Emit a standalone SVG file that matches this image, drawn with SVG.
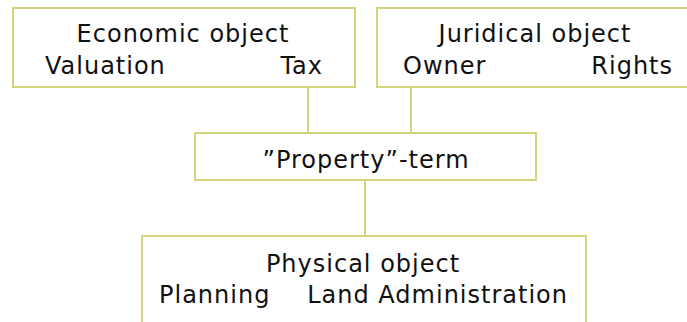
<svg xmlns="http://www.w3.org/2000/svg" width="687" height="322" viewBox="0 0 687 322">
<style>
.box{fill:#fff;stroke:#d4d47c;stroke-width:2}
.ln{stroke:#d4d47c;stroke-width:2;fill:none}
text{font-family:"DejaVu Sans",Verdana,sans-serif;font-size:24px;letter-spacing:1px;fill:#111}
.c{text-anchor:middle}
.e{text-anchor:end}
</style>
<rect width="687" height="322" fill="#fff"/>
<g id="connectors">
<line class="ln" x1="308" y1="87" x2="308" y2="133"/>
<line class="ln" x1="411" y1="87" x2="411" y2="133"/>
<line class="ln" x1="365" y1="180" x2="365" y2="236"/>
</g>
<g id="economic">
<rect class="box" x="13" y="8" width="342" height="79"/>
<text class="c" x="183" y="42">Economic object</text>
<text x="45" y="74">Valuation</text>
<text class="e" x="323" y="74">Tax</text>
</g>
<g id="juridical">
<rect class="box" x="377" y="8" width="320" height="79"/>
<text class="c" x="535" y="42">Juridical object</text>
<text x="403" y="74">Owner</text>
<text class="e" x="673" y="74">Rights</text>
</g>
<g id="property">
<rect class="box" x="195" y="133" width="341" height="47"/>
<text class="c" x="366" y="168">”Property”-term</text>
</g>
<g id="physical">
<rect class="box" x="142" y="236" width="444" height="100"/>
<text class="c" x="363" y="272">Physical object</text>
<text x="159" y="303">Planning</text>
<text class="e" x="568" y="303">Land Administration</text>
</g>
</svg>
